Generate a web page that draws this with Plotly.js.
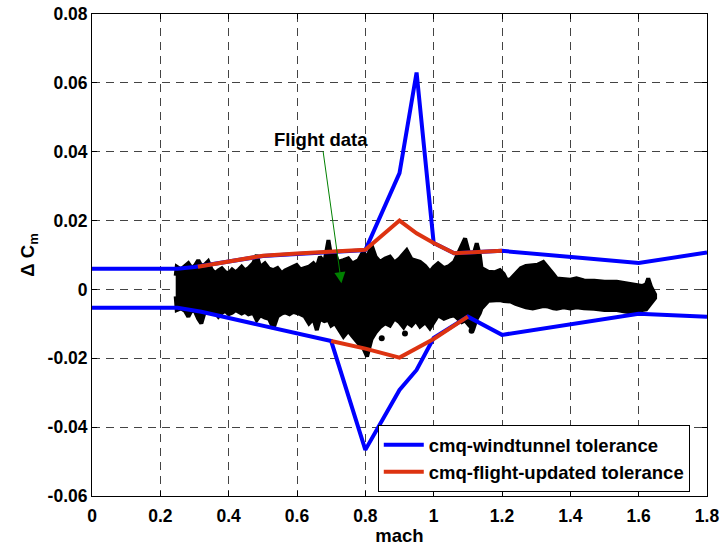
<!DOCTYPE html>
<html><head><meta charset="utf-8">
<script src="https://cdn.plot.ly/plotly-3.0.1.min.js"></script>
<style>html,body{margin:0;padding:0;background:#fff}#c{width:722px;height:546px}</style>
</head><body><div id="c"></div>
<script>
// Wind tunnel tolerance (blue)
const wtUpperMach = [0, 0.25, 0.3, 0.5, 0.6, 0.8, 0.9, 0.95, 1.0, 1.06, 1.2, 1.6, 1.8];
const wtUpperCm   = [0.006, 0.006, 0.0065, 0.0097, 0.0103, 0.0114, 0.0338, 0.063, 0.0135, 0.0105, 0.0112, 0.0077, 0.0107];
const wtLowerMach = [0, 0.25, 0.32, 0.7, 0.8, 0.9, 0.95, 1.0, 1.1, 1.2, 1.6, 1.8];
const wtLowerCm   = [-0.0053, -0.0053, -0.0065, -0.015, -0.0466, -0.0292, -0.0234, -0.0141, -0.0079, -0.0132, -0.0071, -0.0079];
// Flight-updated tolerance (red)
const flUpperMach = [0.31, 0.5, 0.6, 0.8, 0.9, 0.95, 1.0, 1.06, 1.2];
const flUpperCm   = [0.0066, 0.0098, 0.0104, 0.0115, 0.020, 0.0163, 0.0135, 0.0105, 0.0112];
const flLowerMach = [0.7, 0.8, 0.9, 1.0, 1.1];
const flLowerCm   = [-0.015, -0.0172, -0.0198, -0.0144, -0.0079];
// Flight data envelope (black cloud)
const flightMach = [
  0.245, 0.248, 0.26, 0.272, 0.282, 0.292, 0.302, 0.311, 0.32, 0.33,
  0.34, 0.35, 0.36, 0.37, 0.38, 0.39, 0.40, 0.41, 0.42, 0.43,
  0.438, 0.448, 0.458, 0.472, 0.482, 0.492, 0.506, 0.518, 0.531, 0.543,
  0.555, 0.565, 0.578, 0.589, 0.599, 0.61, 0.622, 0.635, 0.648, 0.658,
  0.667, 0.68, 0.692, 0.70, 0.711, 0.72, 0.736, 0.75, 0.762, 0.78,
  0.794, 0.805, 0.818, 0.83, 0.843, 0.858, 0.872, 0.885, 0.9, 0.912,
  0.921, 0.935, 0.948, 0.96, 0.975, 0.989, 1.0, 1.013, 1.03, 1.045,
  1.06, 1.072, 1.082, 1.092, 1.105, 1.115, 1.126, 1.135, 1.14, 1.16,
  1.18, 1.194, 1.205, 1.214, 1.225, 1.24, 1.255, 1.27, 1.29, 1.305,
  1.321, 1.335, 1.35, 1.36, 1.38, 1.40, 1.418, 1.44, 1.47, 1.50,
  1.536, 1.56, 1.59, 1.61, 1.622, 1.628, 1.636, 1.648];
const flightUpper = [
  0.004, 0.0066, 0.0058, 0.0068, 0.0076, 0.0062, 0.007, 0.0085, 0.0068, 0.0072,
  0.0082, 0.0058, 0.0047, 0.0055, 0.0061, 0.005, 0.0047, 0.0058, 0.005, 0.0058,
  0.0066, 0.0055, 0.0062, 0.0076, 0.010, 0.0065, 0.0076, 0.006, 0.0056, 0.0062,
  0.0047, 0.0055, 0.006, 0.0065, 0.0071, 0.0058, 0.0062, 0.0066, 0.0076, 0.0065,
  0.0095, 0.0078, 0.0143, 0.0095, 0.0105, 0.008, 0.0085, 0.009, 0.0075, 0.0085,
  0.011, 0.009, 0.0129, 0.0095, 0.008, 0.009, 0.0095, 0.0078, 0.009, 0.0105,
  0.0114, 0.0088, 0.0085, 0.008, 0.0068, 0.0051, 0.0065, 0.0076, 0.0062, 0.0068,
  0.008, 0.0105, 0.0125, 0.0148, 0.010, 0.0095, 0.0134, 0.010, 0.0062, 0.0051,
  0.005, 0.0056, 0.0045, 0.0027, 0.003, 0.0048, 0.0062, 0.0068, 0.007, 0.0072,
  0.008, 0.0065, 0.0045, 0.0032, 0.003, 0.0028, 0.0032, 0.0026, 0.0025, 0.0022,
  0.0022, 0.0018, 0.0012, 0.001, 0.0015, 0.0032, 0.0008, -0.0015];
const flightLower = [
  -0.002, -0.006, -0.0055, -0.0062, -0.0079, -0.006, -0.0065, -0.0085, -0.0099, -0.0065,
  -0.006, -0.0068, -0.0065, -0.0079, -0.0068, -0.0062, -0.0072, -0.0068, -0.006, -0.0066,
  -0.007, -0.0065, -0.0072, -0.0068, -0.0089, -0.0075, -0.0082, -0.0085, -0.0113, -0.0078,
  -0.007, -0.0066, -0.0072, -0.0065, -0.0068, -0.0072, -0.0078, -0.0099, -0.0085, -0.0118,
  -0.0085, -0.0092, -0.0088, -0.0105, -0.0098, -0.011, -0.0137, -0.012, -0.0135, -0.0157,
  -0.017, -0.0195, -0.0145, -0.0125, -0.011, -0.0098, -0.0105, -0.0084, -0.0095, -0.011,
  -0.0095, -0.0105, -0.009, -0.0108, -0.0095, -0.0113, -0.0095, -0.0075, -0.0085, -0.0079,
  -0.0075, -0.0085, -0.0095, -0.009, -0.0105, -0.0118, -0.0085, -0.0069, -0.0055, -0.0033,
  -0.0032, -0.0031, -0.0034, -0.0036, -0.0035, -0.0042, -0.0048, -0.0052, -0.0055, -0.0052,
  -0.0048, -0.005, -0.0055, -0.0056, -0.0052, -0.0055, -0.0052, -0.0055, -0.0056, -0.006,
  -0.006, -0.0064, -0.0068, -0.006, -0.0058, -0.005, -0.0042, -0.0025];
const outlierMach = [0.848, 0.916, 1.111];
const outlierCm   = [-0.0142, -0.0128, -0.012];
const xTicks = [0, 0.2, 0.4, 0.6, 0.8, 1, 1.2, 1.4, 1.6, 1.8];
const yTicks = [-0.06, -0.04, -0.02, 0, 0.02, 0.04, 0.06, 0.08];

const BLUE = '#0000ff', RED = '#dd3311';
const polyX = flightMach.concat(flightMach.slice().reverse());
const polyY = flightUpper.concat(flightLower.slice().reverse());

const traces = [
  {x: polyX, y: polyY, mode: 'lines', fill: 'toself', fillcolor: '#000', line: {color: '#000', width: 4}, showlegend: false, hoverinfo: 'skip'},
  {x: outlierMach, y: outlierCm, mode: 'markers', marker: {color: '#000', size: 6}, showlegend: false, hoverinfo: 'skip'},
  {x: wtUpperMach, y: wtUpperCm, mode: 'lines', line: {color: BLUE, width: 4}, name: 'cmq-windtunnel tolerance', legendgroup: 'wt'},
  {x: wtLowerMach, y: wtLowerCm, mode: 'lines', line: {color: BLUE, width: 4}, showlegend: false, legendgroup: 'wt'},
  {x: flUpperMach, y: flUpperCm, mode: 'lines', line: {color: RED, width: 4}, name: 'cmq-flight-updated tolerance', legendgroup: 'fl'},
  {x: flLowerMach, y: flLowerCm, mode: 'lines', line: {color: RED, width: 4}, showlegend: false, legendgroup: 'fl'}
];

const FAM = 'Liberation Sans, Arial, sans-serif';
const tickFont = {family: FAM, size: 17.5, color: '#000', weight: 'bold'};
const textFont = {family: FAM, size: 18.5, color: '#000', weight: 'bold'};
const axisCommon = {
  showline: true, linecolor: '#000', linewidth: 1, mirror: 'ticks',
  ticks: 'inside', ticklen: 5, tickcolor: '#000',
  showgrid: true, gridcolor: '#444', gridwidth: 1, griddash: '8px,6px',
  zeroline: false, tickfont: tickFont
};

const layout = {
  width: 722, height: 546,
  margin: {l: 92, r: 15, t: 14, b: 50},
  paper_bgcolor: '#fff', plot_bgcolor: '#fff',
  xaxis: Object.assign({}, axisCommon, {range: [0, 1.8], tickvals: xTicks, ticktext: xTicks.map(String),
    ticklabelstandoff: 4, title: {text: 'mach', font: textFont, standoff: 0}}),
  yaxis: Object.assign({}, axisCommon, {range: [-0.06, 0.08], tickvals: yTicks, ticktext: yTicks.map(v => v === 0 ? '0' : v.toFixed(2)),
    title: {text: 'Δ C<sub>m</sub>', font: textFont, standoff: 8}}),
  legend: {x: 0.972, xanchor: 'right', y: 0.008, yanchor: 'bottom', bgcolor: '#fff', bordercolor: '#000', borderwidth: 1,
    font: textFont, tracegroupgap: 0, itemwidth: 40},
  showlegend: true,
  annotations: [{
    x: 0.73, y: 0.0018, xref: 'x', yref: 'y', text: 'Flight data', font: textFont,
    showarrow: true, arrowcolor: '#008000', arrowwidth: 1, arrowhead: 2, arrowsize: 2.2,
    ax: -20, ay: -144
  }]
};

Plotly.newPlot('c', traces, layout, {displayModeBar: false, staticPlot: true});
</script>
</body></html>
